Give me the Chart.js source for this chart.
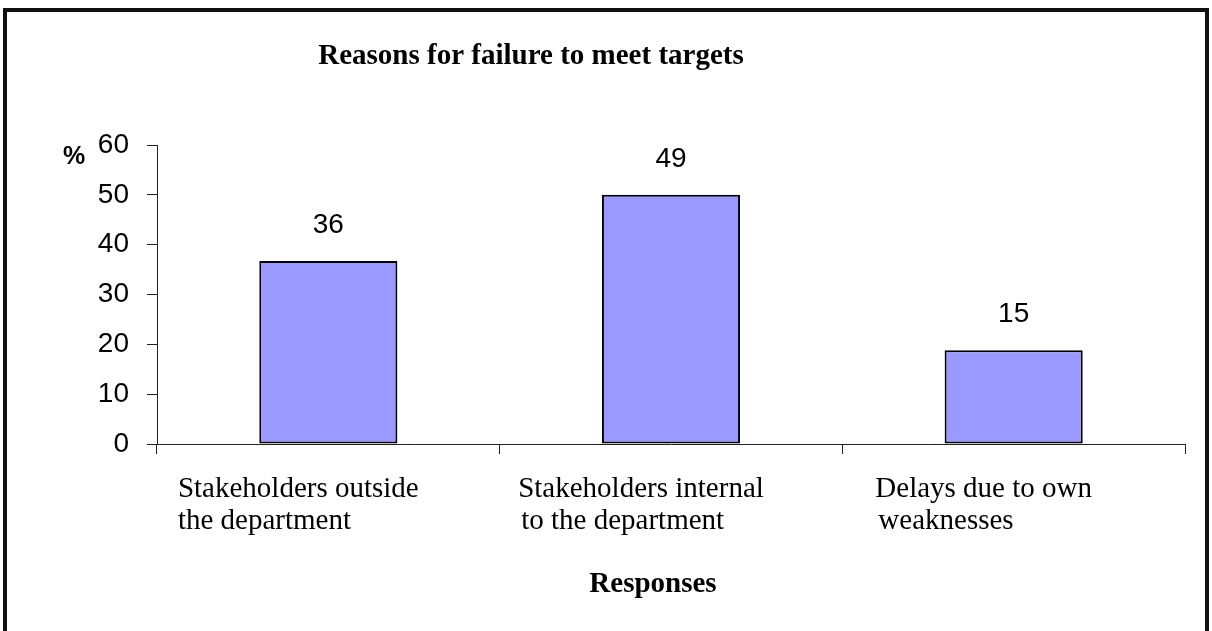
<!DOCTYPE html>
<html>
<head>
<meta charset="utf-8">
<script src="https://cdn.jsdelivr.net/npm/chart.js@4.4.0/dist/chart.umd.min.js"></script>
<style>
  html, body { margin: 0; padding: 0; background: #fff; overflow: hidden; }
  #wrap { position: relative; width: 1212px; height: 631px; }
  #frame {
    position: absolute; left: 3px; top: 8px; width: 1198px; height: 700px;
    border: 4px solid #111; pointer-events: none;
  }
  canvas { position: absolute; left: 0; top: 0; }
</style>
</head>
<body>
<div id="wrap">
  <canvas id="chart" width="1212" height="631"></canvas>
  <div id="frame"></div>
</div>
<script>
// données
const categories = [
  ["Stakeholders outside", "the department"],
  ["Stakeholders internal", "to the department"],
  ["Delays due to own", "weaknesses"]
];
const barValues = [36.7, 50, 18.8];
const valueLabels = ["36", "49", "15"];
const yTicks = [0, 10, 20, 30, 40, 50, 60];

const chartTitle = "Reasons for failure to meet targets";
const xTitle = "Responses";
const yTitle = "%";

const axisColor = "#222";

// textes dessinés à la main (titre, catégories, étiquettes)
const textPlugin = {
  id: "texts",
  afterDraw(chart) {
    const ctx = chart.ctx;
    const xScale = chart.scales.x;
    ctx.save();
    ctx.fillStyle = "#000";

    ctx.font = "bold 29px 'Liberation Serif'";
    ctx.textAlign = "center";
    ctx.textBaseline = "alphabetic";
    ctx.fillText(chartTitle, 531, 64);
    ctx.fillText(xTitle, 653, 592);

    ctx.font = "bold 25px 'Liberation Sans'";
    ctx.textBaseline = "middle";
    ctx.fillText(yTitle, 74, 157);

    // étiquettes de catégories, deux lignes alignées à gauche
    ctx.font = "29px 'Liberation Serif'";
    ctx.textAlign = "left";
    ctx.textBaseline = "alphabetic";
    categories.forEach((lines, i) => {
      const cx = xScale.getPixelForValue(i) - 30;
      const w = ctx.measureText(lines[0]).width;
      const left = cx - w / 2;
      lines.forEach((line, j) => {
        ctx.fillText(line, left + (j && i ? 3 : 0), 497 + j * 32);
      });
    });

    // valeurs au-dessus des barres
    ctx.font = "28px 'Liberation Sans'";
    ctx.textAlign = "center";
    ctx.textBaseline = "middle";
    const meta = chart.getDatasetMeta(0);
    meta.data.forEach((bar, i) => {
      ctx.fillText(valueLabels[i], bar.x, bar.y - 36);
    });
    ctx.restore();
  }
};

new Chart(document.getElementById("chart"), {
  type: "bar",
  data: {
    labels: categories.map(c => c.join(" ")),
    datasets: [{
      data: barValues,
      backgroundColor: "#9999FF",
      borderColor: "#000",
      borderWidth: 2,
      borderSkipped: false,
      barPercentage: 0.403,
      categoryPercentage: 1
    }]
  },
  options: {
    responsive: false,
    animation: false,
    events: [],
    layout: { padding: { left: 0, right: 27, top: 145, bottom: 0 } },
    plugins: {
      legend: { display: false },
      title: { display: false },
      tooltip: { enabled: false }
    },
    scales: {
      x: {
        offset: true,
        grid: {
          offset: true,
          drawOnChartArea: false,
          drawTicks: true,
          tickLength: 10,
          color: axisColor
        },
        border: { display: true, color: axisColor, width: 1 },
        ticks: { display: false },
        afterFit(scale) { scale.height = 187; }
      },
      y: {
        min: 0,
        max: 60,
        afterBuildTicks(scale) {
          scale.ticks = yTicks.map(v => ({ value: v }));
        },
        grid: {
          drawOnChartArea: false,
          drawTicks: true,
          tickLength: 10,
          color: axisColor
        },
        border: { display: true, color: axisColor, width: 1 },
        ticks: {
          color: "#000",
          padding: 18,
          font: { family: "'Liberation Sans'", size: 28 }
        },
        afterFit(scale) { scale.width = 157; }
      }
    }
  },
  plugins: [textPlugin]
});
</script>
</body>
</html>
